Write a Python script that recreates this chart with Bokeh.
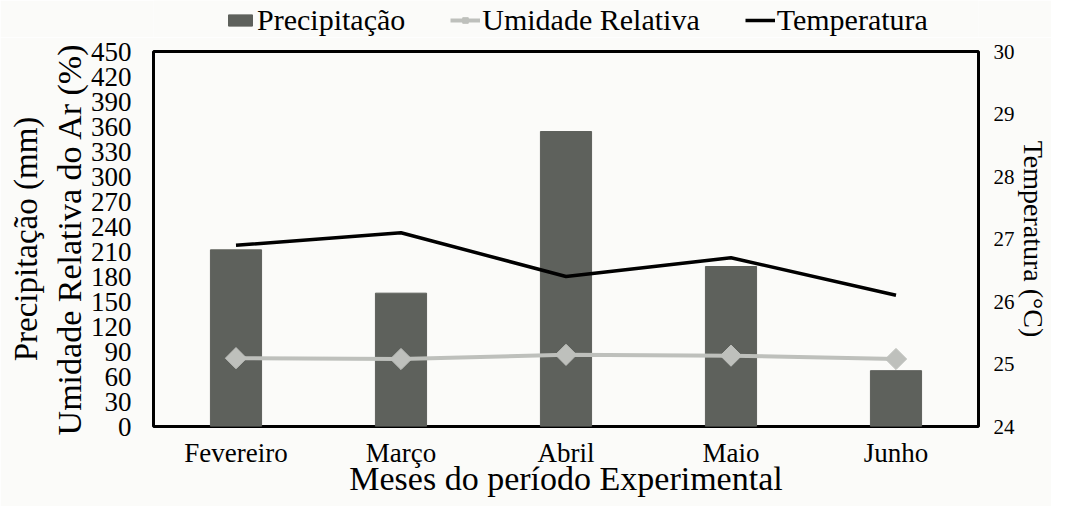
from math import pi
from bokeh.plotting import figure
from bokeh.layouts import column
from bokeh.models import (Range1d, LinearAxis, SingleIntervalTicker, FixedTicker,
                          Legend, LegendItem, FactorRange, ColumnDataSource)
from bokeh.embed import file_html
from bokeh.resources import INLINE

months = ["Fevereiro", "Março", "Abril", "Maio", "Junho"]
precip = [212, 160, 354, 192, 67]
umid = [82, 81, 86, 85, 81]
temp = [26.9, 27.1, 26.4, 26.7, 26.1]

FONT = "Liberation Serif"
BG = "#fbfbf9"
BAR_C = "#5e615c"
UM_C = "#bec0bc"

src = ColumnDataSource(dict(m=months, precip=precip, umid=umid, temp=temp))

# ---------------- main chart ----------------
p = figure(x_range=FactorRange(*months), y_range=Range1d(0, 450),
           width=1051, height=469, output_backend="svg", toolbar_location=None,
           background_fill_color=BG, border_fill_color=BG,
           min_border_left=153, min_border_right=69,
           min_border_top=14, min_border_bottom=80)
p.extra_y_ranges = {"temp": Range1d(24, 30)}

p.vbar(x="m", top="precip", width=0.31, source=src, color=BAR_C)
p.line(x="m", y="umid", source=src, line_color=UM_C, line_width=4)
p.scatter(x="m", y="umid", source=src, marker="square", angle=pi / 4,
          size=15, color=UM_C)
p.line(x="m", y="temp", source=src, y_range_name="temp",
       line_color="black", line_width=3.5)

p.xgrid.visible = False
p.ygrid.visible = False
p.outline_line_color = "black"
p.outline_line_width = 3

right = LinearAxis(y_range_name="temp",
                   ticker=SingleIntervalTicker(interval=1, num_minor_ticks=0))
p.add_layout(right, "right")

outer_left = LinearAxis(ticker=FixedTicker(ticks=[]))
p.add_layout(outer_left, "left")

p.yaxis[0].ticker = SingleIntervalTicker(interval=30, num_minor_ticks=0)

for ax in [p.xaxis[0], p.yaxis[0], right, outer_left]:
    ax.axis_line_color = None
    ax.major_tick_line_color = None
    ax.minor_tick_line_color = None
    ax.major_tick_out = 0
    ax.major_tick_in = 0
    ax.minor_tick_out = 0
    ax.minor_tick_in = 0
    ax.major_label_text_font = FONT
    ax.axis_label_text_font = FONT
    ax.axis_label_text_font_style = "normal"
    ax.major_label_text_color = "black"
    ax.axis_label_text_color = "black"

ly = p.yaxis[0]
ly.axis_label = "Umidade Relativa do Ar (%)"
ly.axis_label_text_font_size = "34px"
ly.major_label_text_font_size = "27px"
ly.major_label_standoff = 22
ly.axis_label_standoff = 0

outer_left.axis_label = "Precipitação (mm)"
outer_left.axis_label_text_font_size = "33px"
outer_left.major_label_standoff = 0
outer_left.axis_label_standoff = 4

lx = p.xaxis[0]
lx.axis_label = "Meses do período Experimental"
lx.axis_label_text_font_size = "34px"
lx.major_label_text_font_size = "27px"
lx.major_label_standoff = 11
lx.axis_label_standoff = -11

right.axis_label = "Temperatura (°C)"
right.axis_label_text_font_size = "28px"
right.major_label_text_font_size = "21px"
right.major_label_standoff = 15
right.axis_label_standoff = 0

# ---------------- legend strip (data kept out of view) ----------------
lf = figure(width=1051, height=37, x_range=FactorRange(*months),
            y_range=Range1d(1000, 1001),
            output_backend="svg", toolbar_location=None,
            x_axis_location=None, y_axis_location=None,
            background_fill_color=BG, border_fill_color=BG, min_border=0)
lf.outline_line_color = None
lf.grid.visible = False
r_bar = lf.vbar(x="m", top="precip", width=0.31, source=src, color=BAR_C)
r_ul = lf.line(x="m", y="umid", source=src, line_color=UM_C, line_width=4)
r_us = lf.scatter(x="m", y="umid", source=src, marker="square", angle=pi / 4,
                  size=15, color=UM_C)
r_t = lf.line(x="m", y="temp", source=src, line_color="black", line_width=3.5)

legend = Legend(items=[LegendItem(label="Precipitação", renderers=[r_bar]),
                       LegendItem(label="Umidade Relativa", renderers=[r_ul, r_us]),
                       LegendItem(label="Temperatura", renderers=[r_t])],
                orientation="horizontal", location=(72, 0),
                label_text_font=FONT, label_text_font_size="30px",
                label_text_color="black",
                glyph_width=30, glyph_height=14, label_standoff=2,
                spacing=45, padding=0, margin=0,
                background_fill_alpha=0, border_line_color=None)
lf.add_layout(legend, "center")

layout = column(lf, p, spacing=0)
open("out.html", "w").write(file_html(layout, INLINE))
